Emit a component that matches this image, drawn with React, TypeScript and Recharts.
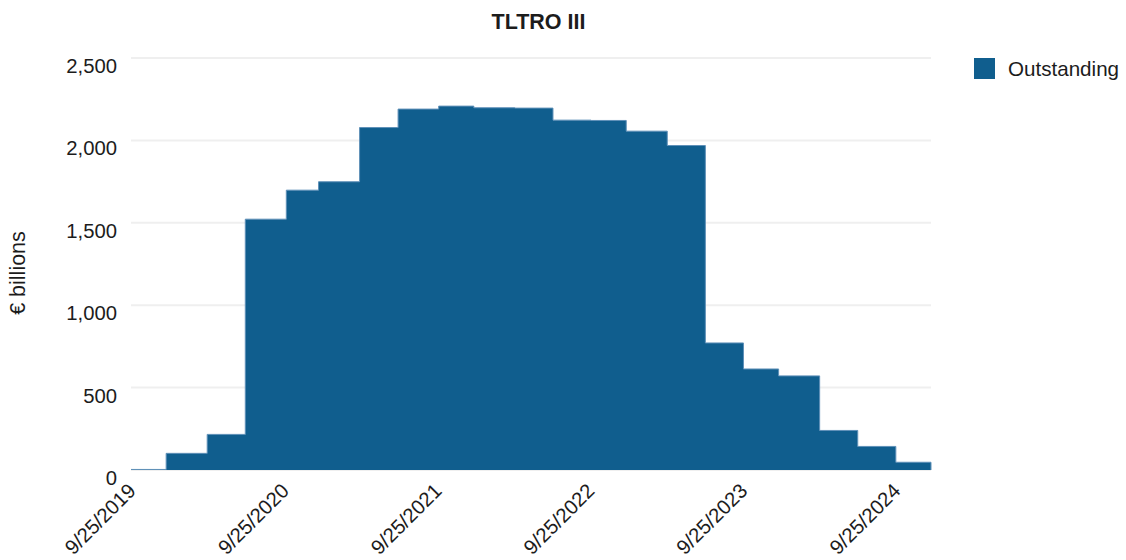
import React from 'react';
import { AreaChart, Area, XAxis, YAxis, CartesianGrid, Legend } from 'recharts';

const settlementDates = [
  '2019-09-25', '2019-12-18', '2020-03-25', '2020-06-24', '2020-09-30', '2020-12-16',
  '2021-03-24', '2021-06-24', '2021-09-29', '2021-12-22', '2022-03-30', '2022-06-29',
  '2022-09-28', '2022-12-21', '2023-03-29', '2023-06-28', '2023-09-27', '2023-12-20',
  '2024-03-27', '2024-06-26', '2024-09-25', '2024-12-18',
];
const outstanding = [
  3.4, 101, 216, 1522, 1698, 1749,
  2078, 2190, 2208, 2198, 2196, 2123,
  2121, 2056, 1969, 771, 613, 571,
  240, 143, 47, 0,
];
const xTickDates = ['2019-09-25', '2020-09-25', '2021-09-25', '2022-09-25', '2023-09-25', '2024-09-25'];
const yTicks = [0, 500, 1000, 1500, 2000, 2500];

const toTime = (s: string) => {
  const [y, m, d] = s.split('-').map(Number);
  return Date.UTC(y, m - 1, d);
};

const data = settlementDates.map((d, i) => ({ t: toTime(d), Outstanding: outstanding[i] }));
const xTicks = xTickDates.map(toTime);
const xDomain = [toTime(settlementDates[0]), toTime(settlementDates[settlementDates.length - 1])];

const FONT = '"Liberation Sans", Arial, Helvetica, sans-serif';
const TEXT = '#1c1c1c';
const FILL = '#105E8E';

const fmtDate = (v: number) => {
  const d = new Date(v);
  return `${d.getUTCMonth() + 1}/${d.getUTCDate()}/${d.getUTCFullYear()}`;
};
const fmtNum = (v: number) => v.toLocaleString('en-US');

const XTick = (props: any) => {
  const { x, y, payload } = props;
  const tx = x + 6;
  const ty = y + 22;
  return (
    <text x={tx} y={ty} transform={`rotate(-45 ${tx} ${ty})`} textAnchor="end" fontSize={20.3} fontFamily={FONT} fill={TEXT}>
      {fmtDate(payload.value)}
    </text>
  );
};

const YTick = (props: any) => {
  const { x, y, payload } = props;
  return (
    <text x={x} y={y + 15} textAnchor="end" fontSize={20.3} fontFamily={FONT} fill={TEXT}>
      {fmtNum(payload.value)}
    </text>
  );
};

const renderLegend = (props: any) => {
  const { payload } = props;
  return (
    <div style={{ fontFamily: FONT, fontSize: 20.6, color: TEXT }}>
      {(payload || []).map((p: any) => (
        <div key={p.value} style={{ display: 'flex', alignItems: 'center', height: 21 }}>
          <div style={{ width: 21, height: 21, background: FILL, marginRight: 13 }} />
          <span style={{ lineHeight: '21px' }}>{p.value}</span>
        </div>
      ))}
    </div>
  );
};

export default function App() {
  return (
    <div style={{ position: 'absolute', left: 0, top: 0, width: 1126, height: 560, background: '#fff' }}>
      <AreaChart width={1126} height={560} data={data} margin={{ top: 58, right: 195, bottom: 0, left: 0 }}>
        <CartesianGrid vertical={false} stroke="#efefef" strokeWidth={2} />
        <XAxis
          dataKey="t"
          type="number"
          scale="time"
          domain={xDomain}
          ticks={xTicks}
          axisLine={false}
          tickLine={false}
          tickSize={0}
          tickMargin={0}
          height={90}
          interval={0}
          tick={<XTick />}
        />
        <YAxis
          type="number"
          domain={[0, 2500]}
          ticks={yTicks}
          axisLine={false}
          tickLine={false}
          tickSize={0}
          tickMargin={14}
          width={131}
          interval={0}
          tick={<YTick />}
        />
        <Legend
          layout="vertical"
          align="center"
          verticalAlign="middle"
          content={renderLegend}
          wrapperStyle={{ left: 974, top: 58, width: 150 }}
        />
        <Area
          type="stepAfter"
          dataKey="Outstanding"
          name="Outstanding"
          fill={FILL}
          fillOpacity={1}
          stroke="#5f90b8"
          strokeWidth={1}
          isAnimationActive={false}
          dot={false}
          activeDot={false}
        />
      </AreaChart>
      <svg width={1126} height={560} style={{ position: 'absolute', left: 0, top: 0, pointerEvents: 'none' }}>
        <text x={538.5} y={28.5} textAnchor="middle" fontSize={21.5} fontWeight="bold" fontFamily={FONT} fill={TEXT}>
          TLTRO III
        </text>
        <text
          x={25}
          y={273}
          transform="rotate(-90 25 273)"
          textAnchor="middle"
          fontSize={21.5}
          fontFamily={FONT}
          fill={TEXT}
        >
          € billions
        </text>
      </svg>
    </div>
  );
}
